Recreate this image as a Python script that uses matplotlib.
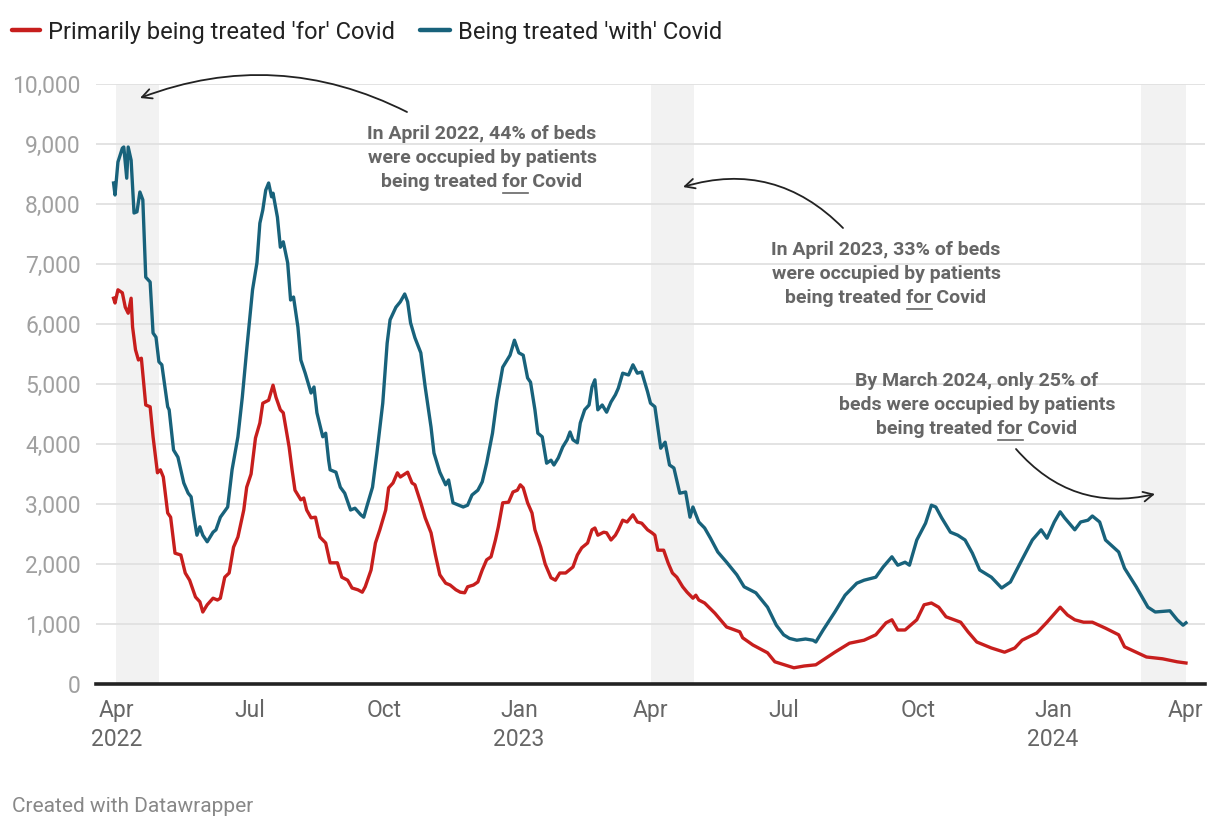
import pandas as pd
import matplotlib.pyplot as plt
from matplotlib.lines import Line2D

plt.rcParams['font.family'] = ['Roboto', 'DejaVu Sans']

# days since 1 April 2022
jours_bleu = [-2, -1, 1, 4, 5, 7, 8, 10, 12, 14, 16, 18, 20, 23, 25, 27, 29, 31, 35, 36,
              39, 42, 46, 49, 51, 53, 55, 57, 59, 62, 66, 68, 71, 76, 79, 83, 86, 89, 93, 96,
              98, 100, 102, 104, 106, 107, 110, 112, 114, 117, 119, 121, 124, 126, 129, 133, 135, 137, 141, 143,
              145, 146, 150, 153, 156, 160, 163, 167, 169, 171, 175, 178, 182, 185, 187, 191, 194, 197, 199, 201,
              204, 208, 211, 215, 217, 221, 225, 227, 230, 234, 237, 240, 243, 247, 250, 253, 257, 260, 264, 267,
              269, 272, 275, 278, 281, 283, 286, 288, 291, 294, 297, 299, 302, 305, 308, 310, 312, 315, 317, 320,
              323, 325, 327, 329, 332, 335, 338, 341, 343, 346, 350, 353, 356, 359, 363, 365, 368, 372, 375, 378,
              381, 385, 389, 392, 394, 398, 402, 406, 411, 417, 424, 429, 437, 445, 451, 456, 460, 465, 471, 476,
              478, 483, 491, 498, 506, 511, 519, 524, 530, 534, 539, 542, 547, 553, 557, 560, 564, 570, 575, 580,
              585, 590, 598, 605, 611, 618, 626, 632, 636, 641, 645, 648, 655, 659, 664, 667, 672, 676, 685, 689,
              697, 705, 710, 720, 725, 729, 731]
avec_covid = [8350, 8150, 8700, 8930, 8950, 8430, 8950, 8730, 7850, 7870, 8200, 8070, 6780, 6700, 5850, 5780, 5370, 5320, 4620, 4570,
              3900, 3780, 3350, 3180, 3120, 2780, 2480, 2620, 2480, 2370, 2530, 2570, 2780, 2950, 3570, 4120, 4780, 5570, 6570, 7020,
              7680, 7900, 8230, 8350, 8120, 8180, 7780, 7280, 7370, 7020, 6400, 6450, 5950, 5400, 5180, 4850, 4950, 4520, 4120, 4180,
              3730, 3570, 3530, 3280, 3180, 2900, 2930, 2820, 2780, 2950, 3280, 3850, 4680, 5680, 6070, 6280, 6370, 6500, 6370, 6020,
              5770, 5520, 4950, 4280, 3850, 3530, 3320, 3400, 3020, 2980, 2950, 2980, 3150, 3230, 3370, 3680, 4180, 4730, 5280, 5400,
              5480, 5730, 5520, 5480, 5100, 5030, 4570, 4180, 4120, 3680, 3730, 3650, 3770, 3950, 4070, 4200, 4070, 4020, 4350, 4570,
              4650, 4950, 5070, 4570, 4650, 4530, 4700, 4820, 4930, 5180, 5150, 5320, 5180, 5200, 4870, 4680, 4620, 3930, 4030, 3650,
              3600, 3180, 3200, 2780, 2950, 2700, 2600, 2430, 2200, 2030, 1820, 1620, 1520, 1280, 980, 820, 760, 730, 750, 730,
              700, 900, 1200, 1480, 1680, 1730, 1780, 1950, 2120, 1980, 2030, 1980, 2400, 2680, 2980, 2950, 2770, 2530, 2480, 2400,
              2180, 1900, 1780, 1600, 1700, 2030, 2400, 2570, 2430, 2700, 2870, 2770, 2570, 2700, 2730, 2800, 2700, 2400, 2200, 1930,
              1620, 1280, 1200, 1220, 1070, 980, 1020]

jours_rouge = [-2, -1, 1, 4, 6, 8, 10, 11, 13, 15, 17, 20, 23, 25, 28, 30, 32, 35, 37, 40,
               44, 47, 50, 54, 57, 59, 62, 66, 69, 71, 74, 77, 80, 83, 87, 89, 92, 95, 98, 100,
               104, 107, 109, 112, 114, 118, 120, 122, 126, 128, 130, 133, 136, 139, 143, 146, 151, 154, 158, 161,
               165, 168, 170, 174, 177, 180, 184, 186, 189, 192, 194, 199, 202, 204, 208, 211, 215, 218, 221, 225,
               228, 232, 235, 238, 240, 244, 247, 250, 253, 256, 259, 261, 264, 268, 271, 274, 276, 278, 281, 284,
               286, 290, 293, 297, 300, 303, 307, 312, 315, 318, 322, 325, 327, 329, 333, 335, 338, 341, 343, 346,
               349, 353, 356, 359, 363, 366, 368, 370, 374, 377, 380, 383, 387, 390, 394, 396, 398, 402, 409, 417,
               426, 428, 435, 445, 450, 463, 470, 478, 483, 491, 501, 511, 519, 526, 530, 534, 539, 547, 552, 557,
               562, 567, 577, 582, 588, 598, 607, 614, 619, 629, 636, 645, 650, 655, 661, 667, 676, 685, 689, 697,
               704, 715, 725, 731]
pour_covid = [6430, 6350, 6570, 6520, 6280, 6180, 6430, 5950, 5570, 5400, 5430, 4650, 4620, 4120, 3520, 3570, 3450, 2850, 2780, 2180,
              2150, 1850, 1730, 1450, 1370, 1200, 1320, 1430, 1400, 1430, 1780, 1850, 2280, 2450, 2900, 3280, 3500, 4100, 4350, 4680,
              4730, 4980, 4780, 4570, 4520, 3950, 3570, 3230, 3070, 3100, 2900, 2770, 2780, 2450, 2350, 2020, 2020, 1780, 1730, 1600,
              1570, 1530, 1620, 1900, 2350, 2570, 2900, 3270, 3350, 3520, 3450, 3530, 3350, 3320, 3020, 2770, 2520, 2150, 1820, 1680,
              1650, 1570, 1530, 1520, 1620, 1650, 1700, 1900, 2070, 2120, 2400, 2620, 3020, 3030, 3200, 3230, 3320, 3270, 3020, 2850,
              2570, 2280, 2000, 1770, 1730, 1850, 1850, 1950, 2150, 2270, 2350, 2570, 2600, 2480, 2530, 2520, 2400, 2480, 2570, 2730,
              2700, 2820, 2700, 2680, 2570, 2520, 2480, 2230, 2230, 2020, 1850, 1780, 1620, 1530, 1430, 1480, 1400, 1350, 1180, 950,
              870, 770, 650, 520, 370, 270, 300, 320, 400, 530, 680, 730, 820, 1020, 1070, 900, 900, 1070, 1320, 1350,
              1280, 1120, 1030, 870, 700, 600, 530, 600, 730, 850, 1030, 1280, 1150, 1070, 1030, 1030, 930, 820, 620, 530,
              450, 420, 370, 350]

debut = pd.Timestamp("2022-04-01")
dates_bleu = debut + pd.to_timedelta(jours_bleu, unit="D")
dates_rouge = debut + pd.to_timedelta(jours_rouge, unit="D")

# periods highlighted in grey
periodes = [("2022-04-01", "2022-04-30"), ("2023-04-01", "2023-05-01"), ("2024-03-01", "2024-04-01")]

ticks_x = ["2022-04-01", "2022-07-01", "2022-10-01", "2023-01-01", "2023-04-01",
           "2023-07-01", "2023-10-01", "2024-01-01", "2024-04-01"]
labels_x = ["Apr\n2022", "Jul", "Oct", "Jan\n2023", "Apr", "Jul", "Oct", "Jan\n2024", "Apr"]
ticks_y = list(range(0, 10001, 1000))

rouge = "#c71e1d"
bleu = "#18627b"

fig = plt.figure(figsize=(12.2, 8.3), dpi=100)
ax = fig.add_axes([96 / 1220, 1 - 684 / 830, (1205 - 96) / 1220, 600 / 830])

for d1, d2 in periodes:
    ax.axvspan(pd.Timestamp(d1), pd.Timestamp(d2), color="#f2f2f2", lw=0, zorder=0)

ax.plot(dates_bleu, avec_covid, color=bleu, lw=2.4, zorder=3, solid_joinstyle="round")
ax.plot(dates_rouge, pour_covid, color=rouge, lw=2.4, zorder=3, solid_joinstyle="round")

ax.set_ylim(0, 10000)
ax.set_xlim(pd.Timestamp("2022-03-18"), pd.Timestamp("2024-04-14"))
ax.set_yticks(ticks_y)
ax.set_yticklabels([f"{v:,}" for v in ticks_y], color="#a0a0a0", fontsize=16.5)
ax.set_xticks([pd.Timestamp(t) for t in ticks_x])
ax.set_xticklabels(labels_x, color="#666666", fontsize=16.5, linespacing=1.3)
ax.tick_params(axis="both", length=0)
ax.tick_params(axis="y", pad=11)
ax.tick_params(axis="x", pad=11)
ax.grid(axis="y", color="#e1e1e1", lw=1.3, zorder=1)
ax.set_axisbelow(True)
for s in ["top", "right", "left", "bottom"]:
    ax.spines[s].set_visible(False)
ax.axhline(0, color="#222222", lw=2.6, zorder=4, clip_on=False)

# legend, drawn by hand
legende = [(12, 40, 48, rouge, "Primarily being treated 'for' Covid"),
           (420, 450, 458, bleu, "Being treated 'with' Covid")]
for x1, x2, xt, c, lab in legende:
    fig.add_artist(Line2D([x1, x2], [800, 800], transform=None, color=c, lw=3.2, solid_capstyle="round"))
    fig.text(xt, 800, lab, transform=None, fontsize=17, color="#222222", va="center_baseline")

# annotations
gris = "#666666"
notes = [
    (482, 134, ["In April 2022, 44% of beds", "were occupied by patients", "being treated for Covid"]),
    (886, 250, ["In April 2023, 33% of beds", "were occupied by patients", "being treated for Covid"]),
    (977, 381, ["By March 2024, only 25% of", "beds were occupied by patients", "being treated for Covid"]),
]
fig.canvas.draw()
rend = fig.canvas.get_renderer()
for cx, cy, lignes in notes:
    for i, ligne in enumerate(lignes):
        y = 830 - (cy + i * 24)
        t = fig.text(cx, y, ligne, transform=None, ha="center", va="center",
                     fontsize=14, fontweight="bold", color=gris)
        if "for Covid" in ligne:
            bb = t.get_window_extent(rend)
            pre = fig.text(0, 0, "being treated ", transform=None, fontsize=14, fontweight="bold")
            mot = fig.text(0, 0, "for", transform=None, fontsize=14, fontweight="bold")
            x0 = bb.x0 + pre.get_window_extent(rend).width
            w = mot.get_window_extent(rend).width
            pre.remove()
            mot.remove()
            fig.add_artist(Line2D([x0, x0 + w], [y - 11, y - 11], transform=None, color=gris, lw=1.2))

fleches = [((140, 98), (407, 112), 0.22), ((683, 187), (843, 228), 0.3), ((1155, 494), (1016, 449), 0.3)]
for tip, queue, rad in fleches:
    ax.annotate("", xy=(tip[0], 830 - tip[1]), xycoords="figure pixels",
                xytext=(queue[0], 830 - queue[1]), textcoords="figure pixels",
                arrowprops=dict(arrowstyle="->,head_length=0.7,head_width=0.35", color="#222222",
                                lw=1.3, connectionstyle=f"arc3,rad={rad}", shrinkA=0, shrinkB=0))

fig.text(12 / 1220, 1 - 806 / 830, "Created with Datawrapper", fontsize=15, color="#888888", va="center")

fig.savefig("out.png", dpi=100)
